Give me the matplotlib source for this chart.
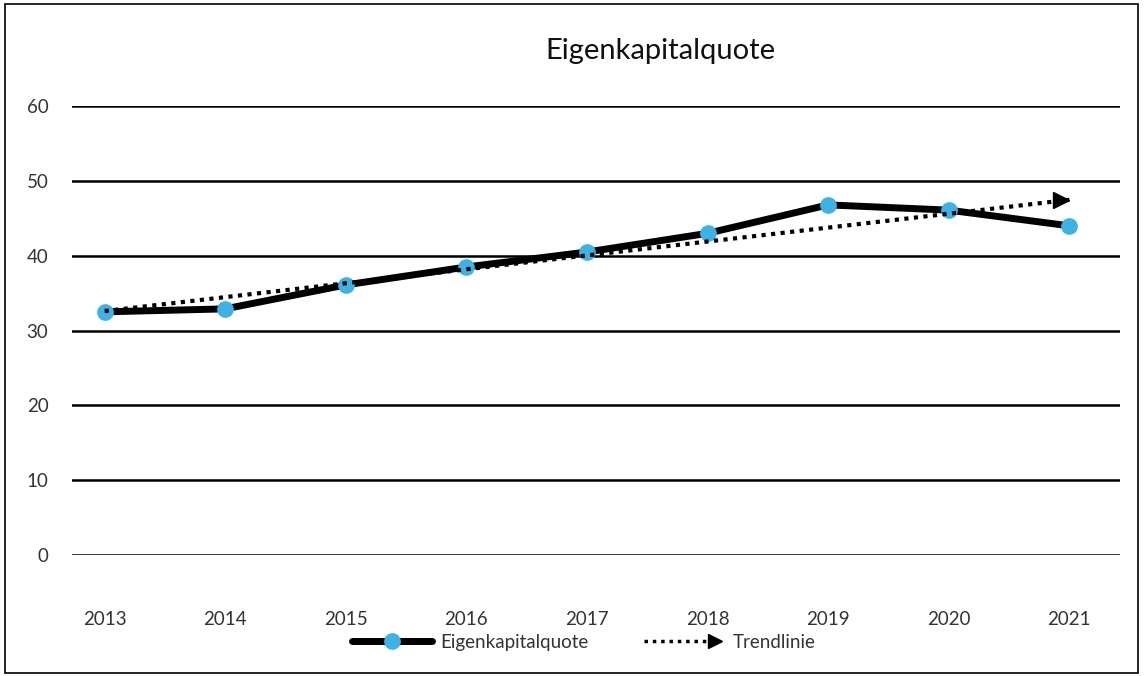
import numpy as np
import matplotlib
matplotlib.use("Agg")
import matplotlib.pyplot as plt
from matplotlib.lines import Line2D
from matplotlib.patches import Rectangle
from matplotlib.legend_handler import HandlerBase

plt.rcParams['font.family'] = ['Lato', 'DejaVu Sans']

years = ["2013", "2014", "2015", "2016", "2017", "2018", "2019", "2020", "2021"]
quote = [32.5, 32.9, 36.1, 38.5, 40.5, 43.0, 46.8, 46.1, 44.0]
yticks = [0, 10, 20, 30, 40, 50, 60]

blue = "#3cb2e6"

x = np.arange(len(years))
slope, icept = np.polyfit(x, quote, 1)
trend = icept + slope * x


class ArrowHandler(HandlerBase):
    def create_artists(self, legend, orig, xd, yd, w, h, fontsize, trans):
        ln = Line2D([xd, xd + w * 0.82], [yd + h / 2, yd + h / 2], color="black",
                    lw=2.5, linestyle=(0, (1, 1.4)), transform=trans)
        tip = Line2D([xd + w * 0.88], [yd + h / 2], marker=">", color="black",
                     markersize=10, linestyle="none", transform=trans)
        return [ln, tip]


class SeriesHandler(HandlerBase):
    def create_artists(self, legend, orig, xd, yd, w, h, fontsize, trans):
        ln = Line2D([xd, xd + w], [yd + h / 2, yd + h / 2], color="black",
                    lw=5, solid_capstyle="round", transform=trans)
        mk = Line2D([xd + w / 2], [yd + h / 2], marker="o", color=blue,
                    markersize=11, linestyle="none", transform=trans)
        return [ln, mk]


fig = plt.figure(figsize=(11.44, 6.76), dpi=100)
ax = fig.add_axes([0.063, 0.179, 0.916, 0.664])

ax.plot(x, quote, color="black", lw=5, zorder=3, solid_joinstyle="round")
ax.plot(x, quote, "o", color=blue, markersize=11, zorder=4)
ax.plot(x, trend, color="black", lw=3, linestyle=(0, (1, 1.3)), zorder=5)
ax.plot([x[-1] - 0.07], [trend[-1]], marker=">", color="black", markersize=12, zorder=5)

ax.set_xlim(-0.27, 8.42)
ax.set_ylim(0, 60)
ax.set_yticks(yticks)
ax.set_xticks(x)
ax.set_xticklabels(years)
ax.grid(axis="y", color="black", lw=1.8)
ax.set_axisbelow(True)
for s in ax.spines.values():
    s.set_visible(False)
ax.tick_params(length=0, labelsize=13.5, colors="#333333")
ax.tick_params(axis="x", pad=40)
ax.tick_params(axis="y", pad=17)

fig.text(0.577, 0.925, "Eigenkapitalquote", ha="center", va="center", fontsize=21,
         color="#111111")

h1 = Line2D([], [])
h2 = Line2D([], [])
fig.legend([h1, h2], ["Eigenkapitalquote", "Trendlinie"],
           handler_map={h1: SeriesHandler(), h2: ArrowHandler()},
           loc="center", bbox_to_anchor=(0.51, 0.05), ncol=2, frameon=False,
           fontsize=13.5, handlelength=4.3, columnspacing=3.0, handletextpad=0.4,
           labelcolor="#333333")

fig.add_artist(Rectangle((0.004, 0.004), 0.991, 0.99, transform=fig.transFigure,
                         fill=False, edgecolor="black", lw=1.2))

fig.savefig("out.png", dpi=100)
